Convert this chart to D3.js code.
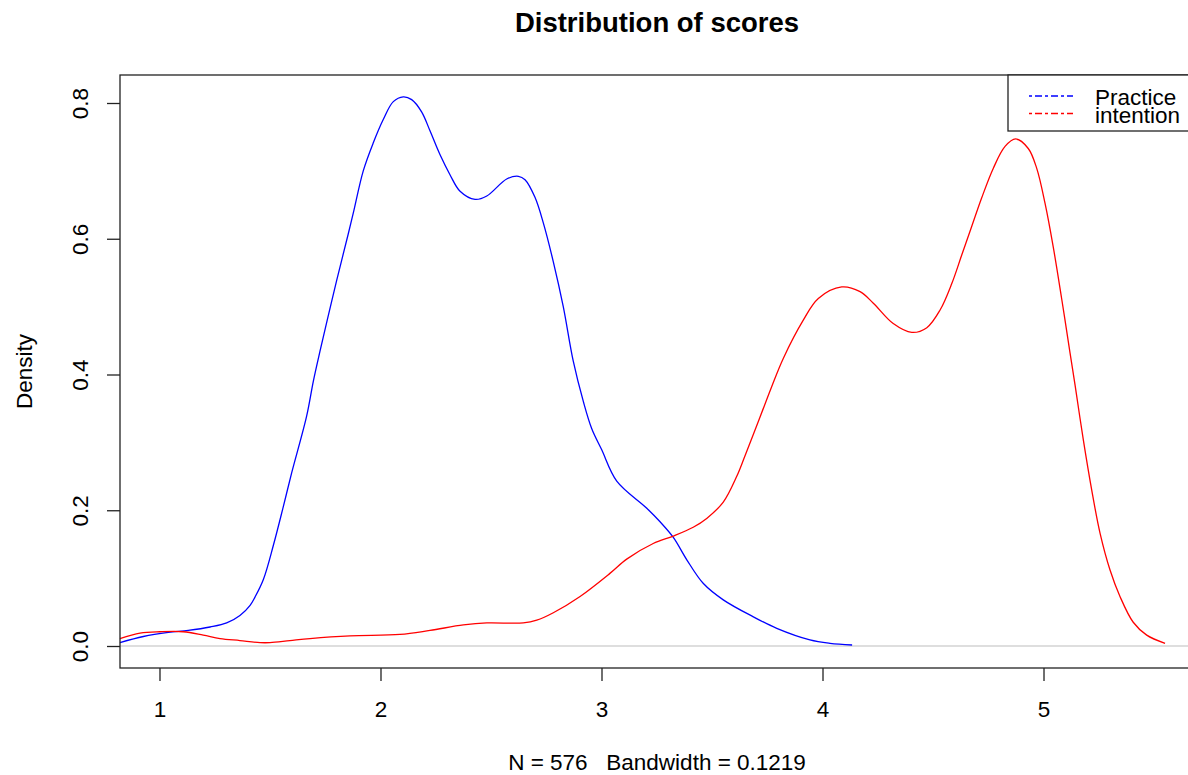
<!DOCTYPE html>
<html>
<head>
<meta charset="utf-8">
<script src="https://cdn.jsdelivr.net/npm/d3@7"></script>
<style>
  html, body { margin: 0; padding: 0; background: #fff; }
  svg text { font-family: "Liberation Sans", Arial, sans-serif; fill: #000; }
</style>
</head>
<body>
<svg id="chart" width="1188" height="775"></svg>
<script>
// Kernel density estimates of the two scores (x = score, y = density)
const practiceX = [0.821, 0.927, 1.040, 1.130, 1.229, 1.304, 1.364, 1.410, 1.432, 1.470,
  1.515, 1.560, 1.598, 1.666, 1.696, 1.726, 1.764, 1.802, 1.854, 1.877, 1.922, 1.967, 2.013,
  2.058, 2.103, 2.141, 2.186, 2.224, 2.269, 2.315, 2.360, 2.428, 2.481, 2.571, 2.624,
  2.654, 2.699, 2.737, 2.782, 2.827, 2.872, 2.918, 2.956, 3.001, 3.069, 3.205, 3.265,
  3.325, 3.386, 3.461, 3.551, 3.687, 3.793, 3.943, 4.034, 4.134];
const practiceY = [0.005, 0.014, 0.020, 0.023, 0.028, 0.034, 0.045, 0.060, 0.072, 0.098,
  0.148, 0.205, 0.255, 0.339, 0.390, 0.434, 0.487, 0.539, 0.607, 0.638, 0.700, 0.741, 0.776,
  0.802, 0.809, 0.805, 0.787, 0.759, 0.724, 0.694, 0.670, 0.658, 0.663, 0.688, 0.692,
  0.687, 0.661, 0.623, 0.566, 0.500, 0.420, 0.360, 0.320, 0.289, 0.243, 0.203, 0.183,
  0.160, 0.127, 0.092, 0.068, 0.043, 0.026, 0.009, 0.004, 0.0015];

const intentionX = [0.821, 0.912, 1.002, 1.108, 1.198, 1.274, 1.364, 1.455, 1.500, 1.590,
  1.681, 1.862, 2.088, 2.224, 2.375, 2.481, 2.646, 2.707, 2.782, 2.903, 3.038, 3.114,
  3.234, 3.325, 3.415, 3.476, 3.551, 3.612, 3.649, 3.717, 3.770, 3.823, 3.913, 3.981, 4.087,
  4.170, 4.230, 4.320, 4.404, 4.472, 4.532, 4.585, 4.630, 4.675, 4.720, 4.773, 4.826,
  4.874, 4.931, 4.969, 5.007, 5.044, 5.082, 5.120, 5.143, 5.180, 5.218, 5.256, 5.301,
  5.346, 5.406, 5.467, 5.550];
const intentionY = [0.011, 0.019, 0.021, 0.021, 0.016, 0.011, 0.008, 0.005, 0.005, 0.008,
  0.011, 0.015, 0.017, 0.023, 0.031, 0.034, 0.034, 0.038, 0.049, 0.073, 0.107, 0.128,
  0.151, 0.162, 0.175, 0.188, 0.212, 0.250, 0.280, 0.337, 0.382, 0.424, 0.480, 0.512, 0.529,
  0.522, 0.505, 0.475, 0.462, 0.469, 0.495, 0.534, 0.576, 0.618, 0.660, 0.704, 0.736,
  0.747, 0.733, 0.704, 0.652, 0.588, 0.512, 0.432, 0.384, 0.304, 0.230, 0.166, 0.112,
  0.073, 0.035, 0.016, 0.004];

const xTicks = [1, 2, 3, 4, 5];
const yTicks = [0.0, 0.2, 0.4, 0.6, 0.8];
const seriesNames = ["Practice", "intention"];
const seriesColors = ["#0000ff", "#ff0000"];

const titleText = "Distribution of scores";
const xLabelText = "N = 576   Bandwidth = 0.1219";
const yLabelText = "Density";

// Plot region (box) in pixels
const box = { left: 120, top: 75, right: 1190, bottom: 668 };

const svg = d3.select("#chart");

const x = d3.scaleLinear().domain([0.8213, 5.6538]).range([120, 1188]);
const y = d3.scaleLinear().domain([0, 0.8]).range([646, 103]);

const line = d3.line()
  .x(d => x(d[0]))
  .y(d => y(d[1]))
  .curve(d3.curveCatmullRom.alpha(0.5));

// zero reference line
svg.append("line")
  .attr("x1", box.left).attr("x2", 1188)
  .attr("y1", y(0)).attr("y2", y(0))
  .attr("stroke", "#bebebe").attr("stroke-width", 1.2);

// density curves
const series = [
  d3.zip(practiceX, practiceY),
  d3.zip(intentionX, intentionY)
];
series.forEach((pts, i) => {
  svg.append("path")
    .attr("d", line(pts))
    .attr("fill", "none")
    .attr("stroke", seriesColors[i])
    .attr("stroke-width", 1.3)
    .attr("stroke-linejoin", "round");
});

// plot box
svg.append("rect")
  .attr("x", box.left).attr("y", box.top)
  .attr("width", box.right - box.left).attr("height", box.bottom - box.top)
  .attr("fill", "none").attr("stroke", "#222").attr("stroke-width", 1.3);

// x axis
const xAxis = d3.axisBottom(x)
  .tickValues(xTicks)
  .tickFormat(d3.format("d"))
  .tickSize(13);
const gx = svg.append("g")
  .attr("transform", `translate(0,${box.bottom})`)
  .call(xAxis);
gx.select(".domain").remove();
gx.selectAll(".tick line").attr("stroke", "#222").attr("stroke-width", 1.3);
gx.selectAll(".tick text")
  .attr("font-size", 22.5)
  .attr("font-family", "Liberation Sans, Arial, sans-serif")
  .attr("dy", null)
  .attr("y", 716.5 - box.bottom);

// y axis with labels rotated along the axis
const yAxis = d3.axisLeft(y)
  .tickValues(yTicks)
  .tickFormat(d3.format(".1f"))
  .tickSize(13);
const gy = svg.append("g")
  .attr("transform", `translate(${box.left},0)`)
  .call(yAxis);
gy.select(".domain").remove();
gy.selectAll(".tick line").attr("stroke", "#222").attr("stroke-width", 1.3);
gy.selectAll(".tick text")
  .attr("font-size", 22.5)
  .attr("font-family", "Liberation Sans, Arial, sans-serif")
  .attr("x", null).attr("dy", null)
  .attr("text-anchor", "middle")
  .attr("transform", `translate(${88 - box.left},0) rotate(-90)`);

// title
svg.append("text")
  .attr("x", 657).attr("y", 31.5)
  .attr("text-anchor", "middle")
  .attr("font-size", 27.5)
  .attr("font-weight", "bold")
  .text(titleText);

// x label (sample size and bandwidth)
svg.append("text")
  .attr("x", 657).attr("y", 770)
  .attr("text-anchor", "middle")
  .attr("font-size", 22.5)
  .style("white-space", "pre")
  .attr("xml:space", "preserve")
  .text(xLabelText);

// y label
svg.append("text")
  .attr("transform", `translate(32,${(box.top + box.bottom) / 2}) rotate(-90)`)
  .attr("text-anchor", "middle")
  .attr("font-size", 22.5)
  .text(yLabelText);

// legend
const legend = svg.append("g");
legend.append("rect")
  .attr("x", 1008).attr("y", box.top)
  .attr("width", 200).attr("height", 56)
  .attr("fill", "#fff").attr("stroke", "#222").attr("stroke-width", 1.3);
seriesNames.forEach((name, i) => {
  const ly = 96 + i * 17.5;
  legend.append("line")
    .attr("x1", 1029).attr("x2", 1073)
    .attr("y1", ly).attr("y2", ly)
    .attr("stroke", seriesColors[i])
    .attr("stroke-width", 1.3)
    .attr("stroke-dasharray", "3,3,7,3");
  legend.append("text")
    .attr("x", 1095).attr("y", ly + 9)
    .attr("font-size", 22.5)
    .text(name);
});
</script>
</body>
</html>
